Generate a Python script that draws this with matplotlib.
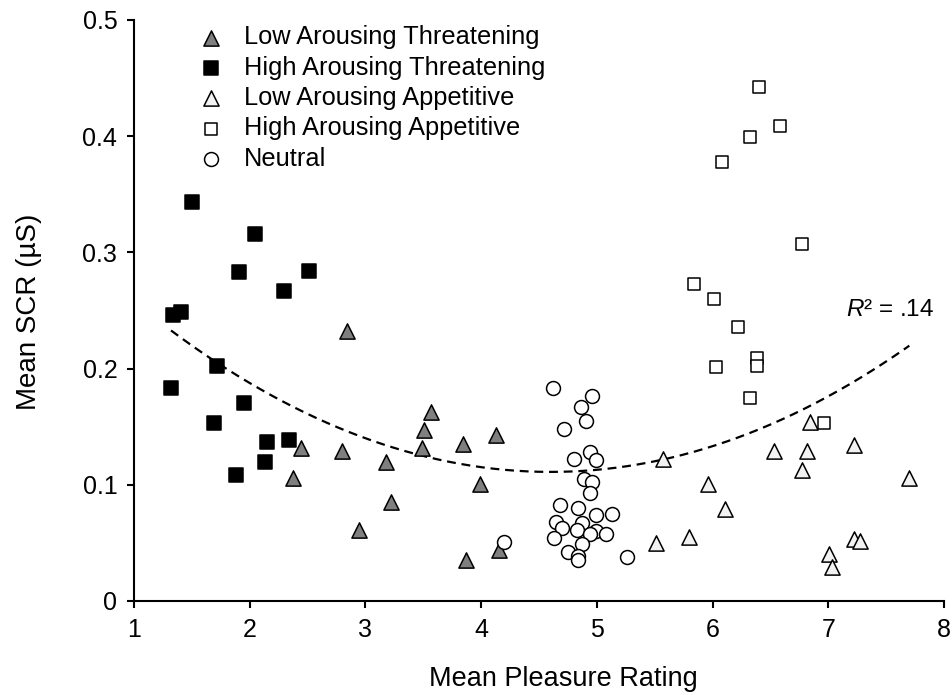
import numpy as np
import matplotlib
matplotlib.use('Agg')
import matplotlib.pyplot as plt

plt.rcParams['font.family'] = ['Liberation Sans', 'DejaVu Sans']
plt.rcParams['mathtext.fontset'] = 'custom'
plt.rcParams['mathtext.rm'] = 'Liberation Sans'
plt.rcParams['mathtext.it'] = 'Liberation Sans:italic'

# Low Arousing Threatening
lat_x = [2.84, 2.44, 2.80, 2.37, 3.175, 3.22, 3.57, 3.51, 3.49, 3.84, 4.13, 3.99, 3.87, 4.15, 2.945]
lat_y = [0.232, 0.132, 0.129, 0.106, 0.120, 0.085, 0.163, 0.147, 0.132, 0.135, 0.143, 0.101, 0.035, 0.044, 0.061]

# High Arousing Threatening
hat_x = [1.50, 2.05, 1.905, 2.51, 2.30, 1.335, 1.405, 1.72, 1.32, 1.95, 1.69, 2.15, 2.34, 2.13, 1.88]
hat_y = [0.343, 0.316, 0.283, 0.284, 0.267, 0.246, 0.249, 0.2025, 0.183, 0.170, 0.153, 0.137, 0.1385, 0.120, 0.108]

# Low Arousing Appetitive
laa_x = [6.84, 5.575, 6.53, 6.82, 7.22, 6.77, 7.70, 5.96, 6.11, 5.80, 5.51, 7.22, 7.27, 7.01, 7.03]
laa_y = [0.154, 0.122, 0.129, 0.129, 0.134, 0.113, 0.106, 0.101, 0.079, 0.055, 0.050, 0.053, 0.052, 0.040, 0.029]

# High Arousing Appetitive
haa_x = [6.40, 6.58, 6.32, 6.77, 6.08, 5.84, 6.01, 6.22, 6.38, 6.38, 6.03, 6.32, 6.96]
haa_y = [0.442, 0.409, 0.399, 0.307, 0.378, 0.273, 0.260, 0.236, 0.209, 0.202, 0.2016, 0.175, 0.153]

# Neutral
neu_x = [4.62, 4.96, 4.86, 4.91, 4.72, 4.80, 4.94, 4.99, 4.89, 4.96, 4.94, 4.68, 4.84, 4.99, 5.13,
         4.65, 4.70, 4.87, 4.83, 4.99, 4.94, 5.08, 4.63, 4.87, 4.75, 4.84, 4.84, 4.20, 5.26]
neu_y = [0.1836, 0.176, 0.167, 0.155, 0.148, 0.122, 0.128, 0.121, 0.105, 0.102, 0.093, 0.083, 0.080, 0.074, 0.075,
         0.068, 0.063, 0.067, 0.061, 0.0605, 0.058, 0.058, 0.054, 0.049, 0.042, 0.039, 0.035, 0.051, 0.038]

fig = plt.figure(figsize=(9.53, 6.95), dpi=100)
ax = fig.add_axes([0.1406, 0.1353, 0.85, 0.836])

ew = 1.1
ax.scatter(lat_x, lat_y, marker='^', s=120, c='#7f7f7f', edgecolors='black', linewidths=ew,
           label='Low Arousing Threatening', zorder=3)
ax.scatter(hat_x, hat_y, marker='s', s=105, c='black', edgecolors='black', linewidths=ew,
           label='High Arousing Threatening', zorder=3)
ax.scatter(laa_x, laa_y, marker='^', s=120, c='#f2f2f2', edgecolors='black', linewidths=ew,
           label='Low Arousing Appetitive', zorder=3)
ax.scatter(haa_x, haa_y, marker='s', s=85, c='white', edgecolors='black', linewidths=ew,
           label='High Arousing Appetitive', zorder=3)
ax.scatter(neu_x, neu_y, marker='o', s=100, c='white', edgecolors='black', linewidths=ew,
           label='Neutral', zorder=3)

# quadratic trendline over all points
all_x = np.concatenate([lat_x, hat_x, laa_x, haa_x, neu_x])
all_y = np.concatenate([lat_y, hat_y, laa_y, haa_y, neu_y])
coef = np.polyfit(all_x, all_y, 2)
xs = np.linspace(all_x.min(), all_x.max(), 200)
ax.plot(xs, np.polyval(coef, xs), color='black', lw=1.6, ls=(0, (4, 2.6)), zorder=2)

ax.text(7.53, 0.2505, '$R$² = .14', fontsize=17.5, ha='center', va='center')

ax.set_xlim(1, 8)
ax.set_ylim(0, 0.5)
ax.set_xticks(range(1, 9))
ax.set_yticks([0, 0.1, 0.2, 0.3, 0.4, 0.5])
ax.set_yticklabels(['0', '0.1', '0.2', '0.3', '0.4', '0.5'])
for s in ['top', 'right']:
    ax.spines[s].set_visible(False)
for s in ['left', 'bottom']:
    ax.spines[s].set_linewidth(1.5)
ax.tick_params(direction='out', length=5, width=1.5, labelsize=18, pad=7)

ax.set_xlabel('Mean Pleasure Rating', fontsize=19.5)
ax.xaxis.set_label_coords(0.53, -0.112)
ax.set_ylabel('Mean SCR (µS)', fontsize=20)
ax.yaxis.set_label_coords(-0.113, 0.497)

ax.legend(loc='upper left', bbox_to_anchor=(0.079, 0.991), frameon=False, fontsize=18.3,
          borderpad=0, handlelength=1.0, handletextpad=0.81, labelspacing=0.25,
          borderaxespad=0, scatterpoints=1)

fig.savefig('out.png', dpi=100)
